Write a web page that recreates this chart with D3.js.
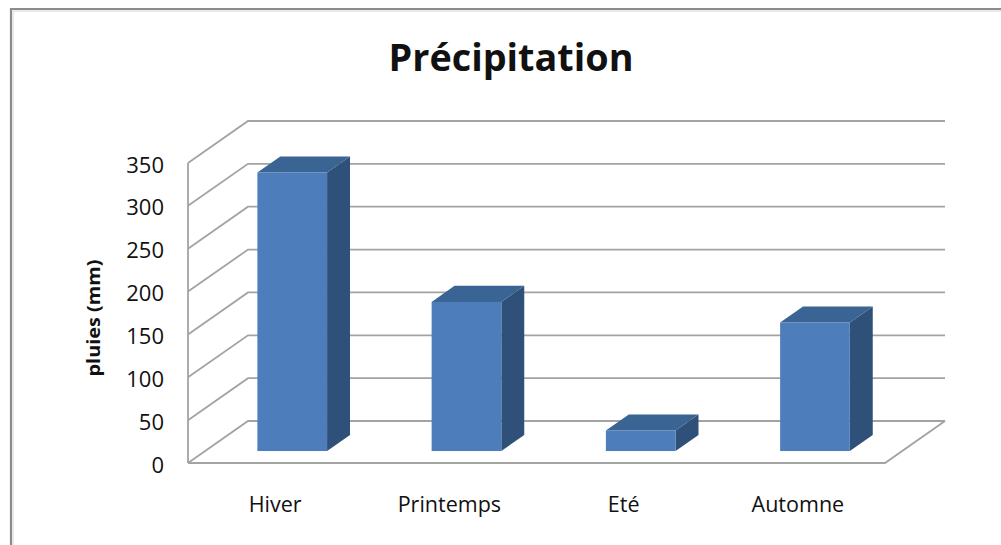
<!DOCTYPE html>
<html>
<head>
<meta charset="utf-8">
<script src="https://cdn.jsdelivr.net/npm/d3@7"></script>
<style>
  html, body { margin: 0; padding: 0; background: #fff; }
  svg { display: block; }
  text { font-family: "Open Sans", "Noto Sans", sans-serif; fill: #111; }
</style>
</head>
<body>
<svg id="chart" width="1001" height="545"></svg>
<script>
// Seasonal rainfall (mm)
const seasons = ["Hiver", "Printemps", "Eté", "Automne"];
const rainfall = [325, 174, 24, 150];
const yTicks = [0, 50, 100, 150, 200, 250, 300, 350];
const chartTitle = "Précipitation";
const yTitle = "pluies (mm)";

const svg = d3.select("#chart");

// Floor / wall geometry of the 3-D plot box
const front = { left: 188, right: 885, bottom: 463, top: 163 };
const depth = { dx: 60, dy: -42 };          // offset from front plane to back wall
const barFront = 0.285, barBack = 0.667;    // bar placement within the depth

const x = d3.scaleBand().domain(seasons)
  .range([front.left, front.right])
  .paddingInner(0.6).paddingOuter(0.3);
const y = d3.scaleLinear().domain([0, 350]).range([front.bottom, front.top]);

// Outer chart frame
svg.append("path")
  .attr("d", "M11,545 V9 H1001")
  .attr("fill", "none")
  .attr("stroke", "#8c8c8c")
  .attr("stroke-width", 2.2);
svg.append("path")
  .attr("d", "M13,545 V11 H1001")
  .attr("fill", "none")
  .attr("stroke", "#e4e4e4")
  .attr("stroke-width", 1.5);

// Title
svg.append("text")
  .attr("x", 511).attr("y", 71)
  .attr("text-anchor", "middle")
  .attr("font-weight", "bold")
  .attr("font-size", 38)
  .attr("textLength", 245)
  .attr("lengthAdjust", "spacingAndGlyphs")
  .text(chartTitle);

const grid = svg.append("g")
  .attr("fill", "none")
  .attr("stroke", "#a3a3a3")
  .attr("stroke-width", 1.8);

// Left wall diagonals + back wall gridlines
yTicks.forEach(v => {
  const yf = y(v);
  grid.append("path").attr("d",
    `M${front.left},${yf} L${front.left + depth.dx},${yf + depth.dy} H${front.right + depth.dx}`);
});
// Vertical front edge of the left wall
grid.append("line")
  .attr("x1", front.left).attr("x2", front.left)
  .attr("y1", y(350)).attr("y2", y(0));
// Floor front and right edges
grid.append("path").attr("d",
  `M${front.left},${y(0)} H${front.right} L${front.right + depth.dx},${y(0) + depth.dy}`);

// Y tick labels
svg.append("g").selectAll("text")
  .data(yTicks).join("text")
  .attr("x", 164)
  .attr("y", d => y(d) + 9.5)
  .attr("text-anchor", "end")
  .attr("font-size", 22)
  .attr("fill", "#262626")
  .text(d => d);

// Y axis title
svg.append("text")
  .attr("transform", "translate(100,318) rotate(-90)")
  .attr("text-anchor", "middle")
  .attr("font-weight", "bold")
  .attr("font-size", 18.5)
  .attr("textLength", 117)
  .attr("lengthAdjust", "spacingAndGlyphs")
  .text(yTitle);

// Category labels
svg.append("g").selectAll("text")
  .data(seasons).join("text")
  .attr("x", d => x(d) + x.bandwidth() / 2)
  .attr("y", 512)
  .attr("text-anchor", "middle")
  .attr("font-size", 21.5)
  .attr("fill", "#2a2a2a")
  .text(d => d);

// 3-D bars
const fx = barFront * depth.dx, fy = barFront * depth.dy;
const bx = (barBack - barFront) * depth.dx, by = (barBack - barFront) * depth.dy;
const bars = svg.append("g").selectAll("g")
  .data(seasons.map((s, i) => ({ s, v: rainfall[i] })))
  .join("g")
  .attr("transform", `translate(${fx},${fy})`);

bars.each(function(d) {
  const g = d3.select(this);
  const x0 = x(d.s), x1 = x0 + x.bandwidth();
  const y0 = y(0), y1 = y(d.v);
  // side face
  g.append("path")
    .attr("d", `M${x1},${y1} L${x1 + bx},${y1 + by} L${x1 + bx},${y0 + by} L${x1},${y0} Z`)
    .attr("fill", "#2f5079");
  // top face
  g.append("path")
    .attr("d", `M${x0},${y1} L${x0 + bx},${y1 + by} L${x1 + bx},${y1 + by} L${x1},${y1} Z`)
    .attr("fill", "#3a6494");
  // front face
  g.append("rect")
    .attr("x", x0).attr("y", y1)
    .attr("width", x1 - x0).attr("height", y0 - y1)
    .attr("fill", "#4d7ebb");
});
</script>
</body>
</html>
